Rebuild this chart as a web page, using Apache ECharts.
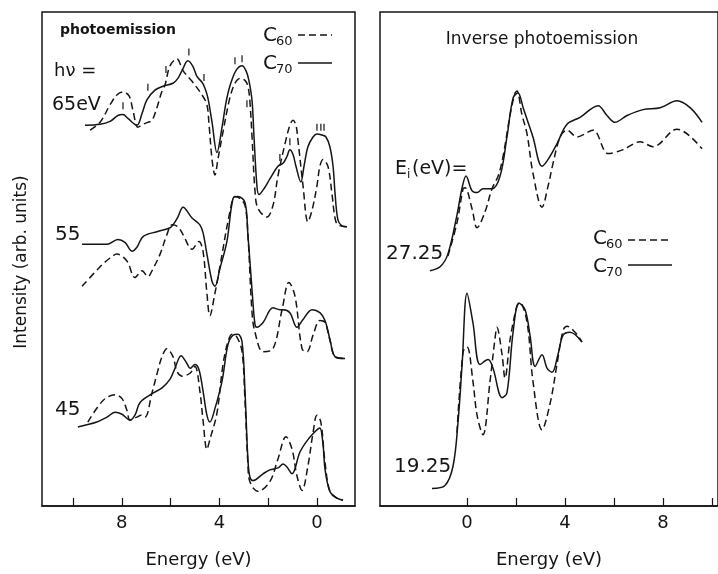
<!DOCTYPE html>
<html>
<head>
<meta charset="utf-8">
<title>C60 / C70 photoemission</title>
<script src="https://cdn.jsdelivr.net/npm/echarts@6/dist/echarts.min.js"></script>
<style>
html, body { margin: 0; padding: 0; background: #fff; }
#main { width: 718px; height: 574px; }
</style>
</head>
<body>
<div id="main"></div>
<script>
// 数据: [能量 eV, 强度 (任意单位)]
var pe65C70 = [[9.51,390],[8.89,391],[8.48,394],[8.16,400],[7.95,401],[7.75,397],[7.38,390],[7.17,402],[6.97,416],[6.64,426],[6.31,430],[5.90,433],[5.70,438],[5.53,446],[5.29,456],[5.08,450],[4.92,440],[4.71,434],[4.59,428],[4.47,418],[4.30,393],[4.10,362],[3.89,388],[3.73,413],[3.57,430],[3.32,446],[3.07,451],[2.91,446],[2.79,436],[2.66,415],[2.58,378],[2.46,328],[2.38,319],[2.17,325],[1.93,335],[1.60,348],[1.39,351],[1.23,358],[1.11,365],[0.98,360],[0.86,348],[0.66,332],[0.53,348],[0.37,368],[0.16,378],[0,381],[-0.20,380],[-0.37,378],[-0.53,368],[-0.66,348],[-0.74,321],[-0.86,293],[-1.02,287],[-1.23,286]]
var pe65C60 = [[9.30,385],[8.89,393],[8.48,411],[8.20,421],[7.95,424],[7.70,420],[7.54,405],[7.34,388],[7.13,391],[6.93,393],[6.76,395],[6.56,408],[6.35,425],[6.23,431],[6.02,451],[5.74,458],[5.49,446],[5.12,435],[4.71,421],[4.51,411],[4.43,393],[4.30,355],[4.18,339],[4.06,355],[3.89,378],[3.57,418],[3.36,433],[3.16,438],[2.95,436],[2.83,430],[2.75,415],[2.66,378],[2.54,323],[2.42,305],[2.05,296],[1.80,308],[1.60,338],[1.31,371],[1.11,390],[0.98,395],[0.86,390],[0.78,375],[0.57,328],[0.37,291],[0.20,303],[0,328],[-0.12,348],[-0.25,355],[-0.45,348],[-0.61,321],[-0.74,295],[-0.86,288],[-1.23,286]]
var pe55C70 = [[9.63,268],[8.61,268],[8.16,273],[7.87,270],[7.58,261],[7.38,265],[7.13,276],[6.56,281],[6.02,285],[5.90,288],[5.70,296],[5.49,306],[5.12,295],[4.80,288],[4.67,280],[4.51,258],[4.30,230],[4.18,225],[3.98,243],[3.69,271],[3.44,315],[3.24,317],[2.95,311],[2.83,278],[2.66,221],[2.54,186],[2.46,183],[2.21,188],[1.80,203],[1.52,201],[1.39,201],[1.11,198],[0.82,183],[0.57,191],[0.20,201],[-0.12,198],[-0.33,190],[-0.53,171],[-0.74,153],[-1.15,151]]
var pe55C60 = [[9.63,225],[8.89,245],[8.48,254],[8.20,258],[7.79,251],[7.46,234],[7.17,241],[6.93,235],[6.72,243],[6.43,258],[6.15,278],[5.94,288],[5.70,286],[5.49,278],[5.12,263],[4.84,271],[4.67,261],[4.51,218],[4.39,195],[4.18,218],[3.98,245],[3.57,301],[3.36,317],[3.16,315],[2.95,308],[2.83,278],[2.66,198],[2.54,178],[2.21,158],[1.80,161],[1.43,201],[1.15,229],[0.90,215],[0.61,161],[0.41,158],[0.16,175],[-0.12,190],[-0.33,188],[-0.53,170],[-0.74,153],[-1.15,151]]
var pe45C70 = [[9.80,81],[9.02,86],[8.61,91],[8.28,96],[7.99,94],[7.66,88],[7.46,93],[7.25,106],[6.76,115],[6.35,121],[6.02,130],[5.82,141],[5.57,154],[5.33,146],[5.20,141],[5.00,145],[4.84,140],[4.67,118],[4.51,93],[4.39,86],[4.18,100],[3.89,128],[3.65,165],[3.44,175],[3.24,176],[3.07,168],[2.95,118],[2.83,48],[2.75,30],[2.62,26],[2.21,33],[1.93,37],[1.60,39],[1.39,43],[1.23,40],[1.02,33],[0.70,55],[0.37,68],[0,78],[-0.12,80],[-0.25,63],[-0.33,38],[-0.53,15],[-0.82,8],[-1.07,6]]
var pe45C60 = [[9.39,86],[8.77,108],[8.28,114],[7.99,110],[7.79,98],[7.66,88],[7.38,91],[7.21,93],[7.05,91],[6.76,116],[6.56,135],[6.35,153],[6.15,161],[5.90,153],[5.74,138],[5.53,133],[5.20,136],[5.00,143],[4.80,118],[4.67,88],[4.51,58],[4.39,68],[4.10,95],[3.85,145],[3.65,168],[3.48,176],[3.28,173],[3.07,158],[2.95,108],[2.83,43],[2.75,25],[2.42,15],[1.93,25],[1.60,48],[1.27,71],[1.02,58],[0.82,31],[0.61,16],[0.37,41],[0.16,75],[0,93],[-0.16,86],[-0.33,45],[-0.53,15],[-0.82,8],[-1.07,6]]
// 65 eV 曲线上的峰位小竖线
var peakMarks = [[7.95,410],[6.93,429],[6.19,447],[5.25,465],[4.63,439],[3.36,456],[3.07,458],[2.87,412],[1.52,357],[1.11,373],[0,388],[-0.16,388],[-0.29,388]]

var ipe27C70 = [[-1.51,241],[-1.10,245],[-0.78,258],[-0.41,298],[-0.20,326],[-0.04,338],[0.20,323],[0.41,321],[0.65,325],[1.02,325],[1.35,338],[1.63,378],[1.88,418],[2.08,423],[2.29,408],[2.49,393],[2.69,378],[3.06,348],[3.31,355],[3.67,371],[4.08,391],[4.61,398],[5.35,410],[5.71,400],[6.04,393],[6.53,400],[7.18,406],[7.88,408],[8.57,415],[9.10,408],[9.59,393]]
var ipe27C60 = [[-0.78,256],[-0.41,290],[-0.16,325],[-0.08,326],[0.20,305],[0.41,285],[0.73,301],[1.02,325],[1.27,338],[1.47,358],[1.76,401],[1.96,423],[2.04,425],[2.24,401],[2.45,381],[2.69,341],[3.06,306],[3.31,328],[3.51,351],[3.80,378],[4.08,385],[4.49,378],[5.14,385],[5.76,361],[6.37,365],[7.06,373],[7.59,368],[8.57,386],[9.59,366]]
var ipe19C70 = [[-1.43,18],[-0.90,21],[-0.57,41],[-0.37,85],[-0.20,145],[0,218],[0.24,188],[0.53,145],[0.86,150],[1.06,141],[1.43,111],[1.63,116],[1.88,178],[2.12,208],[2.37,201],[2.57,175],[2.78,143],[3.06,155],[3.27,141],[3.47,137],[3.71,155],[3.92,175],[4.20,178],[4.69,168]]
var ipe19C60 = [[-0.41,75],[-0.16,158],[0,163],[0.24,128],[0.41,93],[0.65,73],[0.94,128],[1.14,171],[1.22,183],[1.43,155],[1.55,131],[1.76,171],[2.04,205],[2.16,208],[2.45,188],[2.69,128],[3.06,78],[3.39,105],[3.67,145],[3.92,180],[4.08,184],[4.41,178],[4.69,168]]

var leftTicks = [0, 2, 4, 6, 8, 10]
var leftLabels = [0, 4, 8]
var rightTicks = [0, 2, 4, 6, 8, 10]
var rightLabels = [0, 4, 8]

var font = 'DejaVu Sans'
var ink = '#151515'

var makeLine = function(name, data, axis, dashed) {
    return {
        name: name,
        type: 'line',
        xAxisIndex: axis,
        yAxisIndex: axis,
        data: data,
        smooth: 0.35,
        showSymbol: false,
        silent: true,
        lineStyle: {
            color: ink,
            width: 1.5,
            type: dashed ? [7, 4] : 'solid'
        }
    }
}

var makeXAxis = function(grid, min, max, inverse, ticks, labels) {
    return {
        type: 'value',
        gridIndex: grid,
        min: min,
        max: max,
        inverse: inverse,
        splitLine: { show: false },
        axisLine: { show: true, lineStyle: { color: ink, width: 1.5 } },
        axisTick: { show: true, inside: true, length: 8, customValues: ticks, lineStyle: { color: ink, width: 1.2 } },
        axisLabel: {
            customValues: labels,
            margin: 8,
            color: ink,
            fontSize: 18,
            fontFamily: font,
            formatter: function(v) { return String(v) }
        },
        name: 'Energy (eV)',
        nameLocation: 'middle',
        nameGap: 45,
        nameTextStyle: { color: ink, fontSize: 18, fontFamily: font }
    }
}

var makeYAxis = function(grid) {
    return {
        type: 'value',
        gridIndex: grid,
        min: 0,
        max: 506,
        show: false
    }
}

var txt = function(x, y, s, size, extra) {
    var st = { text: s, fontSize: size, fontFamily: font, fill: ink, textAlign: 'left', textVerticalAlign: 'middle' }
    for (var k in (extra || {})) { st[k] = extra[k] }
    return { type: 'text', x: x, y: y, style: st, z: 20 }
}

var seg = function(x1, y1, x2, dashed) {
    return {
        type: 'line',
        shape: { x1: x1, y1: y1, x2: x2, y2: y1 },
        style: { stroke: ink, lineWidth: 1.5, lineDash: dashed ? [7, 4] : null },
        z: 20
    }
}

var chart = echarts.init(document.getElementById('main'))

var option = {
    backgroundColor: '#fff',
    animation: false,
    grid: [
        { left: 42, top: 12, width: 313, height: 506, show: true, borderColor: ink, borderWidth: 1.5 },
        { left: 380, top: 12, width: 338, height: 506, show: true, borderColor: ink, borderWidth: 1.5 }
    ],
    xAxis: [
        makeXAxis(0, -1.56, 11.27, true, leftTicks, leftLabels),
        makeXAxis(1, -3.55, 10.24, false, rightTicks, rightLabels)
    ],
    yAxis: [makeYAxis(0), makeYAxis(1)],
    series: [
        makeLine('65 C70', pe65C70, 0, false),
        makeLine('65 C60', pe65C60, 0, true),
        makeLine('55 C70', pe55C70, 0, false),
        makeLine('55 C60', pe55C60, 0, true),
        makeLine('45 C70', pe45C70, 0, false),
        makeLine('45 C60', pe45C60, 0, true),
        {
            type: 'scatter',
            xAxisIndex: 0,
            yAxisIndex: 0,
            data: peakMarks,
            symbol: 'rect',
            symbolSize: [1.5, 7],
            silent: true,
            itemStyle: { color: ink }
        },
        makeLine('27.25 C70', ipe27C70, 1, false),
        makeLine('27.25 C60', ipe27C60, 1, true),
        makeLine('19.25 C70', ipe19C70, 1, false),
        makeLine('19.25 C60', ipe19C60, 1, true)
    ],
    graphic: [
        txt(60, 30, 'photoemission', 14, { fontWeight: 'bold' }),
        txt(263, 36, 'C', 20), txt(276, 42, '60', 13), seg(298, 35, 332, true),
        txt(263, 64, 'C', 20), txt(276, 70, '70', 13), seg(298, 63, 332, false),
        txt(54, 71, 'hν =', 18),
        txt(52, 105, '65eV', 19),
        txt(55, 235, '55', 20),
        txt(55, 410, '45', 20),
        txt(542, 40, 'Inverse photoemission', 17, { textAlign: 'center' }),
        txt(395, 169, 'E', 19), txt(407, 175, 'i', 12), txt(412, 169, '(eV)=', 19),
        txt(386, 254, '27.25', 20),
        txt(394, 467, '19.25', 20),
        txt(593, 239, 'C', 20), txt(606, 245, '60', 13), seg(628, 240, 672, true),
        txt(593, 267, 'C', 20), txt(606, 273, '70', 13), seg(628, 265, 672, false),
        { type: 'rect', shape: { x: 635, y: 514, width: 3, height: 8 }, style: { fill: '#fff' }, z: 30 },
        {
            type: 'text',
            x: 22,
            y: 262,
            rotation: Math.PI / 2,
            style: { text: 'Intensity (arb. units)', fontSize: 17, fontFamily: font, fill: ink, textAlign: 'center', textVerticalAlign: 'middle' },
            z: 20
        }
    ]
}

chart.setOption(option)
</script>
</body>
</html>
